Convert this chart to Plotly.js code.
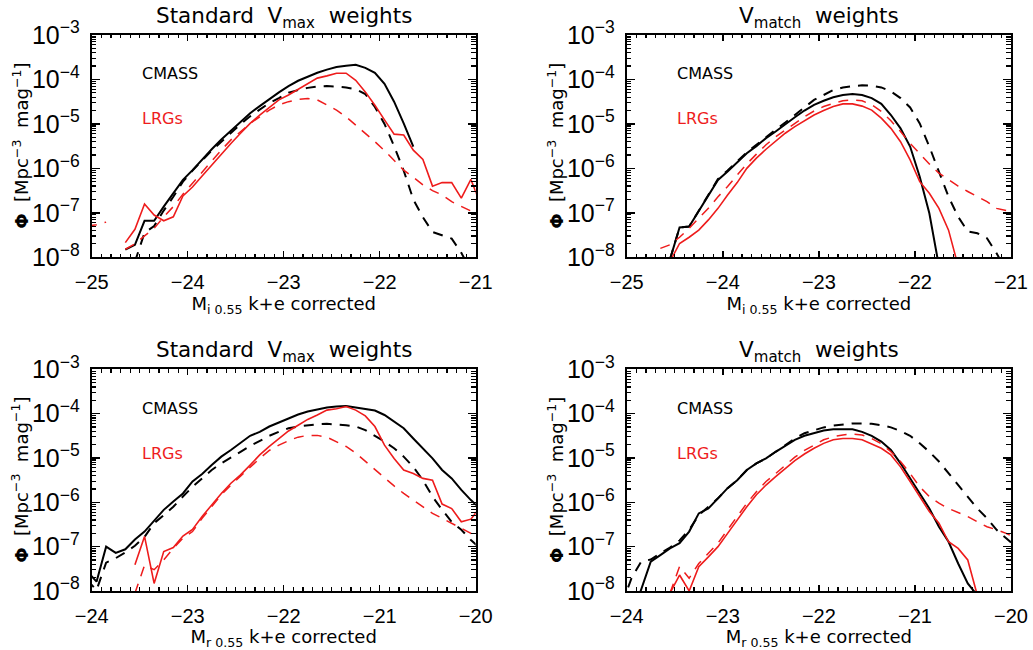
<!DOCTYPE html>
<html>
<head>
<meta charset="utf-8">
<script src="https://cdn.plot.ly/plotly-3.0.1.min.js"></script>
<style>
  html, body { margin: 0; padding: 0; background: #fff; }
  #chart { width: 1033px; height: 650px; }
</style>
</head>
<body>
<div id="chart"></div>
<script>
// ---- bin centres (absolute magnitude) ----
const magI = [-25.05,-24.95,-24.85,-24.75,-24.65,-24.55,-24.45,-24.35,-24.25,-24.15,-24.05,-23.95,-23.85,-23.75,-23.65,-23.55,-23.45,-23.35,-23.25,-23.15,-23.05,-22.95,-22.85,-22.75,-22.65,-22.55,-22.45,-22.35,-22.25,-22.15,-22.05,-21.95,-21.85,-21.75,-21.65,-21.55,-21.45,-21.35,-21.25,-21.15,-21.05,-20.95];
const magR = [-24.05,-23.95,-23.85,-23.75,-23.65,-23.55,-23.45,-23.35,-23.25,-23.15,-23.05,-22.95,-22.85,-22.75,-22.65,-22.55,-22.45,-22.35,-22.25,-22.15,-22.05,-21.95,-21.85,-21.75,-21.65,-21.55,-21.45,-21.35,-21.25,-21.15,-21.05,-20.95,-20.85,-20.75,-20.65,-20.55,-20.45,-20.35,-20.25,-20.15,-20.05,-19.95];

// ---- log10(Phi) (null = no value) ----
// i-band, standard Vmax weights
const iVmax_cmassSolid = [null,null,null,null,-7.83,-7.72,-7.18,-7.18,-6.86,-6.56,-6.26,-6.04,-5.80,-5.57,-5.35,-5.16,-4.97,-4.76,-4.60,-4.44,-4.29,-4.15,-4.03,-3.94,-3.85,-3.78,-3.72,-3.69,-3.67,-3.74,-3.85,-4.10,-4.50,-4.99,-5.51,null,null,null,null,null,null,null];
const iVmax_cmassDash  = [null,null,null,null,null,-8.10,-7.45,-7.30,-6.95,-6.64,-6.30,-6.05,-5.82,-5.60,-5.40,-5.20,-5.01,-4.83,-4.67,-4.53,-4.42,-4.30,-4.24,-4.19,-4.16,-4.15,-4.16,-4.18,-4.22,-4.33,-4.62,-5.00,-5.50,-6.05,-6.70,-7.10,-7.43,-7.50,-7.58,-7.90,-8.30,null];
const iVmax_lrgSolid   = [null,null,null,null,-7.67,-7.37,-6.80,-7.05,-7.18,-7.09,-6.62,-6.42,-6.17,-5.92,-5.68,-5.44,-5.21,-4.99,-4.80,-4.63,-4.46,-4.35,-4.22,-4.09,-3.97,-3.92,-3.86,-3.86,-4.02,-4.28,-4.58,-4.91,-5.23,-5.25,-5.59,-5.80,-6.40,-6.32,-6.32,-6.67,-6.25,-6.80];
const iVmax_lrgDash    = [-7.30,-7.27,-7.21,null,-7.82,-7.70,-7.52,-7.35,-7.09,-6.86,-6.58,-6.33,-6.08,-5.84,-5.59,-5.36,-5.17,-4.99,-4.84,-4.69,-4.57,-4.50,-4.45,-4.43,-4.46,-4.57,-4.69,-4.84,-5.02,-5.21,-5.40,-5.60,-5.81,-6.04,-6.20,-6.37,-6.50,-6.60,-6.75,-6.86,-6.96,-7.05];
// i-band, Vmatch weights
const iVmatch_cmassSolid = [null,null,null,null,null,-8.05,-7.33,-7.31,-6.97,-6.60,-6.26,-6.07,-5.87,-5.66,-5.50,-5.32,-5.17,-5.00,-4.85,-4.70,-4.57,-4.48,-4.40,-4.35,-4.33,-4.35,-4.42,-4.55,-4.80,-5.10,-5.51,-6.19,-7.01,-8.20,null,null,null,null,null,null,null,null];
const iVmatch_cmassDash  = [null,null,null,null,null,-8.05,-7.33,-7.31,-6.95,-6.58,-6.24,-6.05,-5.85,-5.64,-5.47,-5.29,-5.13,-4.97,-4.80,-4.61,-4.46,-4.35,-4.24,-4.18,-4.15,-4.13,-4.14,-4.18,-4.27,-4.42,-4.63,-4.99,-5.51,-6.07,-6.64,-7.09,-7.42,-7.46,-7.57,-7.91,-8.30,null];
const iVmatch_lrgSolid   = [null,null,null,null,null,-8.10,-7.69,-7.55,-7.39,-7.16,-6.90,-6.60,-6.32,-6.00,-5.77,-5.57,-5.38,-5.21,-5.06,-4.93,-4.80,-4.70,-4.61,-4.55,-4.55,-4.60,-4.69,-4.87,-5.10,-5.40,-5.81,-6.30,-6.56,-6.90,-7.39,-8.20,null,null,null,null,null,null];
const iVmatch_lrgDash    = [null,null,null,null,-7.80,-7.72,-7.55,-7.35,-7.12,-6.90,-6.64,-6.41,-6.15,-5.90,-5.68,-5.47,-5.29,-5.14,-4.97,-4.84,-4.71,-4.61,-4.54,-4.48,-4.46,-4.48,-4.57,-4.72,-4.93,-5.17,-5.44,-5.68,-5.90,-6.11,-6.26,-6.40,-6.52,-6.64,-6.75,-6.90,-6.95,-7.05];
// r-band, standard Vmax weights
const rVmax_cmassSolid = [-7.55,-7.79,-7.00,-7.14,-7.06,-6.84,-6.66,-6.42,-6.17,-5.98,-5.80,-5.53,-5.36,-5.16,-4.97,-4.82,-4.67,-4.50,-4.41,-4.29,-4.20,-4.11,-4.02,-3.95,-3.90,-3.86,-3.84,-3.83,-3.86,-3.90,-3.93,-4.03,-4.18,-4.33,-4.56,-4.78,-5.01,-5.27,-5.46,-5.72,-5.95,-6.15];
const rVmax_cmassDash  = [-7.75,-7.98,-7.36,-7.26,-7.13,-6.98,-6.78,-6.47,-6.29,-6.10,-5.87,-5.65,-5.46,-5.27,-5.12,-4.98,-4.86,-4.73,-4.61,-4.50,-4.41,-4.33,-4.29,-4.26,-4.24,-4.23,-4.24,-4.26,-4.29,-4.37,-4.50,-4.63,-4.78,-4.97,-5.20,-5.50,-5.87,-6.17,-6.44,-6.62,-6.85,-7.05];
const rVmax_lrgSolid   = [null,null,null,null,null,-7.41,-6.77,-7.83,-7.11,-7.02,-6.76,-6.61,-6.32,-6.06,-5.80,-5.57,-5.38,-5.16,-4.93,-4.74,-4.56,-4.39,-4.26,-4.13,-4.03,-3.92,-3.89,-3.84,-3.92,-4.05,-4.29,-4.71,-5.01,-5.27,-5.35,-5.46,-5.50,-6.04,-6.14,-6.44,-6.38,-6.10];
const rVmax_lrgDash    = [null,null,null,null,null,-8.05,-7.42,-7.52,-7.30,-7.04,-6.81,-6.66,-6.36,-6.10,-5.83,-5.61,-5.41,-5.20,-5.01,-4.83,-4.71,-4.61,-4.53,-4.49,-4.49,-4.53,-4.63,-4.74,-4.89,-5.08,-5.27,-5.46,-5.63,-5.80,-5.95,-6.10,-6.25,-6.36,-6.47,-6.59,-6.70,-6.85];
// r-band, Vmatch weights
const rVmatch_cmassSolid = [null,-8.60,-7.98,-7.34,-7.19,-7.04,-6.92,-6.66,-6.25,-6.14,-5.91,-5.68,-5.50,-5.27,-5.12,-5.01,-4.86,-4.73,-4.59,-4.50,-4.44,-4.38,-4.35,-4.35,-4.35,-4.41,-4.50,-4.63,-4.82,-5.12,-5.46,-5.80,-6.14,-6.55,-6.89,-7.38,-7.83,-8.10,null,null,null,null];
const rVmatch_cmassDash  = [-8.30,-7.71,-7.34,-7.29,-7.15,-7.02,-6.86,-6.62,-6.29,-6.11,-5.91,-5.68,-5.50,-5.27,-5.12,-5.01,-4.86,-4.71,-4.56,-4.44,-4.37,-4.31,-4.27,-4.24,-4.22,-4.22,-4.23,-4.26,-4.31,-4.39,-4.50,-4.67,-4.86,-5.08,-5.35,-5.61,-5.87,-6.14,-6.36,-6.62,-6.81,-7.00];
const rVmatch_lrgSolid   = [null,null,null,null,null,-8.05,-7.64,-8.00,-7.45,-7.23,-7.00,-6.70,-6.40,-6.10,-5.83,-5.61,-5.42,-5.23,-5.06,-4.91,-4.78,-4.67,-4.59,-4.56,-4.56,-4.59,-4.68,-4.78,-4.93,-5.20,-5.53,-5.87,-6.21,-6.47,-6.89,-7.04,-7.30,-8.10,null,null,null,null];
const rVmatch_lrgDash    = [null,null,null,null,null,-8.05,-7.45,-7.71,-7.38,-7.15,-6.92,-6.62,-6.32,-6.02,-5.76,-5.53,-5.35,-5.16,-4.98,-4.83,-4.71,-4.59,-4.52,-4.48,-4.46,-4.48,-4.56,-4.68,-4.86,-5.08,-5.35,-5.65,-5.87,-6.02,-6.14,-6.23,-6.32,-6.44,-6.55,-6.62,-6.70,-6.81];

// ---- text ----
const panelTitles = ['Standard\u00a0 V<sub>max</sub>\u00a0 weights', 'V<sub>match</sub>\u00a0 weights', 'Standard\u00a0 V<sub>max</sub>\u00a0 weights', 'V<sub>match</sub>\u00a0 weights'];
const xTitles = ['M<sub>i 0.55</sub> k+e corrected', 'M<sub>i 0.55</sub> k+e corrected', 'M<sub>r 0.55</sub> k+e corrected', 'M<sub>r 0.55</sub> k+e corrected'];
const yTitle = '<b>\u03a6</b>\u00a0 [Mpc<sup>\u22123</sup>\u00a0 mag<sup>\u22121</sup>]';
const legendLabels = ['CMASS', 'LRGs'];

const BLACK = '#000000', RED = '#ee1c1c';
const toPhi = a => a.map(v => v === null ? null : Math.pow(10, v));

const panels = [
  {mag: magI, cs: iVmax_cmassSolid, cd: iVmax_cmassDash, ls: iVmax_lrgSolid, ld: iVmax_lrgDash, range: [-25, -21]},
  {mag: magI, cs: iVmatch_cmassSolid, cd: iVmatch_cmassDash, ls: iVmatch_lrgSolid, ld: iVmatch_lrgDash, range: [-25, -21]},
  {mag: magR, cs: rVmax_cmassSolid, cd: rVmax_cmassDash, ls: rVmax_lrgSolid, ld: rVmax_lrgDash, range: [-24, -20]},
  {mag: magR, cs: rVmatch_cmassSolid, cd: rVmatch_cmassDash, ls: rVmatch_lrgSolid, ld: rVmatch_lrgDash, range: [-24, -20]}
];

const xDomains = [[0.0888, 0.4605], [0.6067, 0.9787], [0.0888, 0.4605], [0.6067, 0.9787]];
const yDomains = [[0.6042, 0.9462], [0.6042, 0.9462], [0.0908, 0.4318], [0.0908, 0.4318]];
const titleY = [0.9725, 0.9725, 0.459, 0.459];
const yTitleX = [0.0200, 0.5380, 0.0200, 0.5380];

const DASH = '10px,8px';
const traces = [];
const layout = {
  width: 1033, height: 650,
  margin: {l: 0, r: 0, t: 0, b: 0},
  paper_bgcolor: '#fff', plot_bgcolor: '#fff',
  showlegend: false,
  annotations: []
};

const tickFont = {family: 'Liberation Sans, Arial, sans-serif', size: 20, color: '#000'};
const textFamily = 'DejaVu Sans, sans-serif';

panels.forEach((p, i) => {
  const n = i === 0 ? '' : String(i + 1);
  const xa = 'x' + n, ya = 'y' + n;
  const series = [
    {y: p.cd, color: BLACK, width: 2, dash: DASH},
    {y: p.cs, color: BLACK, width: 2, dash: 'solid'},
    {y: p.ld, color: RED, width: 1.5, dash: DASH},
    {y: p.ls, color: RED, width: 1.6, dash: 'solid'}
  ];
  series.forEach(s => traces.push({
    type: 'scatter', mode: 'lines', x: p.mag, y: toPhi(s.y),
    xaxis: xa, yaxis: ya, hoverinfo: 'skip',
    line: {color: s.color, width: s.width, dash: s.dash}
  }));

  layout['xaxis' + n] = {
    domain: xDomains[i], anchor: ya, range: p.range,
    showline: true, linecolor: '#000', linewidth: 2, mirror: 'allticks',
    ticks: 'inside', ticklen: 6, tickwidth: 1.5, tickcolor: '#000',
    dtick: 1, tick0: 0, showgrid: false, zeroline: false,
    minor: {ticks: 'inside', dtick: 0.1, tick0: 0, ticklen: 3.5, tickwidth: 1.2, tickcolor: '#000', showgrid: false},
    tickfont: tickFont, ticklabelstandoff: 6,
    title: {text: xTitles[i], font: {family: textFamily, size: 18, color: '#000'}, standoff: 5}
  };
  layout['yaxis' + n] = {
    domain: yDomains[i], anchor: xa, type: 'log', range: [-8, -3],
    showline: true, linecolor: '#000', linewidth: 2, mirror: 'allticks',
    ticks: 'inside', ticklen: 8, tickwidth: 1.5, tickcolor: '#000',
    dtick: 1, exponentformat: 'power', showgrid: false, zeroline: false,
    minor: {ticks: 'inside', dtick: 'D1', ticklen: 4.5, tickwidth: 1.2, tickcolor: '#000', showgrid: false},
    tickfont: tickFont, ticklabelstandoff: 6
  };

  layout.annotations.push({
    text: panelTitles[i], xref: 'paper', yref: 'paper',
    x: (xDomains[i][0] + xDomains[i][1]) / 2, y: titleY[i],
    xanchor: 'center', yanchor: 'middle', showarrow: false,
    font: {family: textFamily, size: 21.5, color: '#000'}
  });
  layout.annotations.push({
    text: yTitle, xref: 'paper', yref: 'paper', textangle: -90,
    x: yTitleX[i], y: (yDomains[i][0] + yDomains[i][1]) / 2,
    xanchor: 'center', yanchor: 'middle', showarrow: false,
    font: {family: textFamily, size: 18, color: '#000'}
  });
  layout.annotations.push({
    text: legendLabels[0], xref: xa + ' domain', yref: ya + ' domain',
    x: 0.126, y: 0.8245, xanchor: 'left', yanchor: 'middle', showarrow: false,
    font: {family: textFamily, size: 16, color: BLACK}
  });
  layout.annotations.push({
    text: legendLabels[1], xref: xa + ' domain', yref: ya + ' domain',
    x: 0.126, y: 0.622, xanchor: 'left', yanchor: 'middle', showarrow: false,
    font: {family: textFamily, size: 16, color: RED}
  });
});

Plotly.newPlot('chart', traces, layout, {staticPlot: true, displayModeBar: false});
</script>
</body>
</html>
